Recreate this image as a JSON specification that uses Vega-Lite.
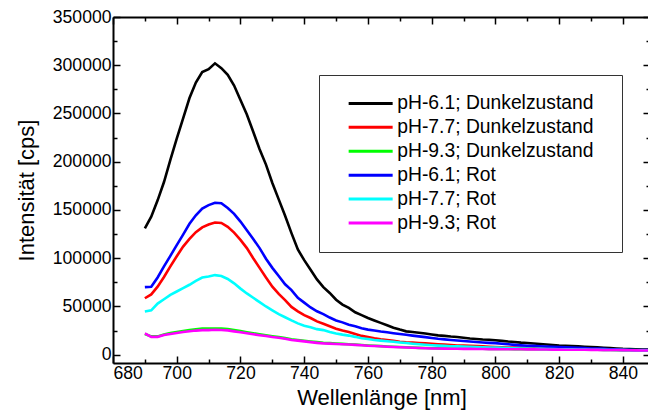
{
  "$schema": "https://vega.github.io/schema/vega-lite/v6.json",
  "width": 537,
  "height": 346,
  "autosize": "none",
  "padding": {"left": 113, "top": 17, "right": 0, "bottom": 53},
  "background": "white",
  "config": {
    "font": "Liberation Sans",
    "view": {"stroke": null},
    "axis": {
      "grid": false,
      "domainColor": "black",
      "domainWidth": 2,
      "tickColor": "black",
      "tickWidth": 1.5,
      "labelColor": "black",
      "titleColor": "black",
      "labelFontSize": 17.6,
      "titleFontSize": 22,
      "titleFontWeight": "normal",
      "labelFont": "Liberation Sans",
      "titleFont": "Liberation Sans"
    }
  },
  "data": {
    "values": [
      {"nm": 690, "k1": 131000, "k2": 58500, "k3": 21500, "k4": 70000, "k5": 44800, "k6": 22000},
      {"nm": 692, "k1": 143000, "k2": 62500, "k3": 19000, "k4": 70500, "k5": 46000, "k6": 18500},
      {"nm": 694, "k1": 160000, "k2": 70500, "k3": 19000, "k4": 80000, "k5": 53000, "k6": 18500},
      {"nm": 696, "k1": 179000, "k2": 80500, "k3": 21000, "k4": 91500, "k5": 57500, "k6": 20500},
      {"nm": 698, "k1": 202000, "k2": 91500, "k3": 22500, "k4": 102500, "k5": 62000, "k6": 21500},
      {"nm": 700, "k1": 224000, "k2": 102000, "k3": 23500, "k4": 113500, "k5": 65500, "k6": 22500},
      {"nm": 702, "k1": 245000, "k2": 112000, "k3": 24500, "k4": 124500, "k5": 69000, "k6": 23500},
      {"nm": 704, "k1": 266000, "k2": 120000, "k3": 25500, "k4": 135700, "k5": 72500, "k6": 24300},
      {"nm": 706, "k1": 282000, "k2": 127000, "k3": 26300, "k4": 144500, "k5": 76500, "k6": 25000},
      {"nm": 708, "k1": 293000, "k2": 132000, "k3": 27000, "k4": 151500, "k5": 80000, "k6": 25500},
      {"nm": 710, "k1": 296000, "k2": 135000, "k3": 27000, "k4": 155000, "k5": 81000, "k6": 25500},
      {"nm": 712, "k1": 302000, "k2": 137000, "k3": 27200, "k4": 157500, "k5": 82500, "k6": 25800},
      {"nm": 714, "k1": 297000, "k2": 136500, "k3": 27000, "k4": 157000, "k5": 81500, "k6": 25600},
      {"nm": 716, "k1": 290000, "k2": 132500, "k3": 26500, "k4": 152000, "k5": 78500, "k6": 25200},
      {"nm": 718, "k1": 279000, "k2": 126500, "k3": 25500, "k4": 146000, "k5": 74000, "k6": 24200},
      {"nm": 720, "k1": 264000, "k2": 119000, "k3": 24500, "k4": 138000, "k5": 68500, "k6": 23300},
      {"nm": 722, "k1": 249000, "k2": 110500, "k3": 23300, "k4": 129000, "k5": 63500, "k6": 22300},
      {"nm": 724, "k1": 231000, "k2": 100000, "k3": 22200, "k4": 120000, "k5": 59000, "k6": 21200},
      {"nm": 726, "k1": 213000, "k2": 90000, "k3": 21200, "k4": 110500, "k5": 54500, "k6": 20200},
      {"nm": 728, "k1": 197000, "k2": 80000, "k3": 20200, "k4": 99500, "k5": 50000, "k6": 19300},
      {"nm": 730, "k1": 178000, "k2": 70500, "k3": 19200, "k4": 90000, "k5": 46000, "k6": 18300},
      {"nm": 732, "k1": 161000, "k2": 63000, "k3": 18300, "k4": 81500, "k5": 42000, "k6": 17500},
      {"nm": 734, "k1": 144000, "k2": 56500, "k3": 17200, "k4": 73000, "k5": 38800, "k6": 16500},
      {"nm": 736, "k1": 126000, "k2": 49500, "k3": 16000, "k4": 67000, "k5": 35500, "k6": 15200},
      {"nm": 738, "k1": 109000, "k2": 45000, "k3": 15300, "k4": 59000, "k5": 32500, "k6": 14600},
      {"nm": 740, "k1": 98000, "k2": 41000, "k3": 14500, "k4": 54000, "k5": 30000, "k6": 13800},
      {"nm": 742, "k1": 88000, "k2": 38000, "k3": 13700, "k4": 49000, "k5": 28500, "k6": 13000},
      {"nm": 744, "k1": 78000, "k2": 34500, "k3": 13000, "k4": 45000, "k5": 26500, "k6": 12300},
      {"nm": 746, "k1": 70000, "k2": 32000, "k3": 12400, "k4": 42000, "k5": 25500, "k6": 11700},
      {"nm": 748, "k1": 64000, "k2": 29500, "k3": 12000, "k4": 38500, "k5": 23500, "k6": 11500},
      {"nm": 750, "k1": 57000, "k2": 27000, "k3": 11600, "k4": 35500, "k5": 22000, "k6": 11100},
      {"nm": 752, "k1": 52000, "k2": 25000, "k3": 11200, "k4": 33500, "k5": 20800, "k6": 10800},
      {"nm": 754, "k1": 48500, "k2": 23500, "k3": 10800, "k4": 31000, "k5": 19800, "k6": 10500},
      {"nm": 756, "k1": 44000, "k2": 21500, "k3": 10400, "k4": 29500, "k5": 18500, "k6": 10200},
      {"nm": 758, "k1": 41000, "k2": 19500, "k3": 10000, "k4": 27500, "k5": 17000, "k6": 9800},
      {"nm": 760, "k1": 38000, "k2": 18200, "k3": 9600, "k4": 26000, "k5": 16200, "k6": 9300},
      {"nm": 762, "k1": 35500, "k2": 17000, "k3": 9200, "k4": 25000, "k5": 15300, "k6": 9000},
      {"nm": 764, "k1": 33000, "k2": 16000, "k3": 8900, "k4": 24000, "k5": 14600, "k6": 8700},
      {"nm": 766, "k1": 30500, "k2": 15200, "k3": 8500, "k4": 23200, "k5": 14000, "k6": 8300},
      {"nm": 768, "k1": 28000, "k2": 14400, "k3": 8200, "k4": 22300, "k5": 13400, "k6": 8000},
      {"nm": 770, "k1": 26000, "k2": 13500, "k3": 8000, "k4": 21500, "k5": 12700, "k6": 7800},
      {"nm": 772, "k1": 24200, "k2": 12800, "k3": 7700, "k4": 20700, "k5": 12100, "k6": 7500},
      {"nm": 774, "k1": 23500, "k2": 12500, "k3": 7400, "k4": 19800, "k5": 11400, "k6": 7200},
      {"nm": 776, "k1": 22800, "k2": 12200, "k3": 7100, "k4": 19000, "k5": 10800, "k6": 6900},
      {"nm": 778, "k1": 22000, "k2": 11900, "k3": 6900, "k4": 18200, "k5": 10300, "k6": 6700},
      {"nm": 780, "k1": 21000, "k2": 11300, "k3": 6700, "k4": 17300, "k5": 9800, "k6": 6500},
      {"nm": 782, "k1": 20000, "k2": 10800, "k3": 6600, "k4": 16500, "k5": 9400, "k6": 6400},
      {"nm": 784, "k1": 19500, "k2": 10400, "k3": 6500, "k4": 15900, "k5": 9100, "k6": 6300},
      {"nm": 786, "k1": 18800, "k2": 10000, "k3": 6400, "k4": 15300, "k5": 8800, "k6": 6200},
      {"nm": 788, "k1": 18300, "k2": 9600, "k3": 6300, "k4": 14800, "k5": 8600, "k6": 6100},
      {"nm": 790, "k1": 17500, "k2": 9400, "k3": 6200, "k4": 14200, "k5": 8500, "k6": 6000},
      {"nm": 792, "k1": 16800, "k2": 9200, "k3": 6200, "k4": 13600, "k5": 8300, "k6": 6000},
      {"nm": 794, "k1": 16300, "k2": 8900, "k3": 6100, "k4": 13100, "k5": 8000, "k6": 5900},
      {"nm": 796, "k1": 15800, "k2": 8600, "k3": 6100, "k4": 12700, "k5": 7700, "k6": 5900},
      {"nm": 798, "k1": 15500, "k2": 8300, "k3": 6000, "k4": 12300, "k5": 7500, "k6": 5800},
      {"nm": 800, "k1": 15000, "k2": 8000, "k3": 6000, "k4": 12000, "k5": 7300, "k6": 5800},
      {"nm": 802, "k1": 14300, "k2": 7800, "k3": 5900, "k4": 11400, "k5": 7100, "k6": 5700},
      {"nm": 804, "k1": 13600, "k2": 7500, "k3": 5900, "k4": 10800, "k5": 6900, "k6": 5700},
      {"nm": 806, "k1": 13100, "k2": 7300, "k3": 5800, "k4": 10200, "k5": 6700, "k6": 5600},
      {"nm": 808, "k1": 12500, "k2": 7100, "k3": 5800, "k4": 9700, "k5": 6500, "k6": 5600},
      {"nm": 810, "k1": 12100, "k2": 6900, "k3": 5700, "k4": 9300, "k5": 6400, "k6": 5500},
      {"nm": 812, "k1": 11600, "k2": 6700, "k3": 5700, "k4": 9100, "k5": 6200, "k6": 5500},
      {"nm": 814, "k1": 11100, "k2": 6500, "k3": 5600, "k4": 8800, "k5": 6000, "k6": 5400},
      {"nm": 816, "k1": 10600, "k2": 6300, "k3": 5600, "k4": 8500, "k5": 5900, "k6": 5400},
      {"nm": 818, "k1": 10100, "k2": 6100, "k3": 5500, "k4": 8200, "k5": 5800, "k6": 5300},
      {"nm": 820, "k1": 9600, "k2": 5900, "k3": 5500, "k4": 8000, "k5": 5700, "k6": 5300},
      {"nm": 822, "k1": 9300, "k2": 5800, "k3": 5400, "k4": 7700, "k5": 5600, "k6": 5200},
      {"nm": 824, "k1": 9000, "k2": 5600, "k3": 5400, "k4": 7400, "k5": 5500, "k6": 5200},
      {"nm": 826, "k1": 8600, "k2": 5500, "k3": 5300, "k4": 7100, "k5": 5400, "k6": 5100},
      {"nm": 828, "k1": 8300, "k2": 5300, "k3": 5300, "k4": 6800, "k5": 5300, "k6": 5100},
      {"nm": 830, "k1": 8000, "k2": 5200, "k3": 5200, "k4": 6500, "k5": 5200, "k6": 5000},
      {"nm": 832, "k1": 7600, "k2": 5100, "k3": 5200, "k4": 6300, "k5": 5100, "k6": 5000},
      {"nm": 834, "k1": 7200, "k2": 5000, "k3": 5100, "k4": 6000, "k5": 5000, "k6": 4900},
      {"nm": 836, "k1": 6800, "k2": 4900, "k3": 5100, "k4": 5700, "k5": 4900, "k6": 4900},
      {"nm": 838, "k1": 6400, "k2": 4800, "k3": 5000, "k4": 5500, "k5": 4800, "k6": 4800},
      {"nm": 840, "k1": 6000, "k2": 4700, "k3": 4900, "k4": 5200, "k5": 4700, "k6": 4700},
      {"nm": 842, "k1": 5800, "k2": 4600, "k3": 4800, "k4": 5100, "k5": 4600, "k6": 4600},
      {"nm": 844, "k1": 5600, "k2": 4500, "k3": 4700, "k4": 4900, "k5": 4500, "k6": 4500},
      {"nm": 846, "k1": 5400, "k2": 4400, "k3": 4600, "k4": 4800, "k5": 4500, "k6": 4400},
      {"nm": 848, "k1": 5200, "k2": 4300, "k3": 4500, "k4": 4700, "k5": 4400, "k6": 4300}
    ]
  },
  "transform": [
    {"fold": ["k1", "k2", "k3", "k4", "k5", "k6"], "as": ["key", "value"]},
    {
      "lookup": "key",
      "from": {
        "data": {
          "values": [
            {"key": "k1", "series": "pH-6.1; Dunkelzustand"},
            {"key": "k2", "series": "pH-7.7; Dunkelzustand"},
            {"key": "k3", "series": "pH-9.3; Dunkelzustand"},
            {"key": "k4", "series": "pH-6.1; Rot"},
            {"key": "k5", "series": "pH-7.7; Rot"},
            {"key": "k6", "series": "pH-9.3; Rot"}
          ]
        },
        "key": "key",
        "fields": ["series"]
      }
    }
  ],
  "layer": [
    {
      "mark": {"type": "line", "opacity": 0},
      "encoding": {
        "detail": {"field": "key"},
        "x": {
          "field": "nm", "type": "quantitative",
          "scale": {"domain": [680, 848.5], "nice": false, "zero": false},
          "axis": {
            "orient": "top", "title": null, "labels": false,
            "values": [680, 690, 700, 710, 720, 730, 740, 750, 760, 770, 780, 790, 800, 810, 820, 830, 840],
            "tickSize": {"condition": {"test": "datum.value % 20 === 0", "value": -7}, "value": -4}
          }
        },
        "y": {
          "field": "value", "type": "quantitative",
          "scale": {"domain": [-8600, 350000], "nice": false, "zero": false},
          "axis": {
            "orient": "right", "title": null, "labels": false,
            "values": [0, 25000, 50000, 75000, 100000, 125000, 150000, 175000, 200000, 225000, 250000, 275000, 300000, 325000, 350000],
            "tickSize": {"condition": {"test": "datum.value % 50000 === 0", "value": -7}, "value": -4}
          }
        }
      }
    },
    {
      "mark": {"type": "line", "strokeWidth": 2.6},
      "encoding": {
        "x": {
          "field": "nm", "type": "quantitative",
          "scale": {"domain": [680, 848.5], "nice": false, "zero": false},
          "axis": {
            "orient": "bottom", "title": "Wellenlänge [nm]",
            "values": [680, 690, 700, 710, 720, 730, 740, 750, 760, 770, 780, 790, 800, 810, 820, 830, 840],
            "labelExpr": "datum.value % 20 === 0 ? datum.label : ''",
            "tickSize": {"condition": {"test": "datum.value % 20 === 0", "value": -7}, "value": -4},
            "labelPadding": 8,
            "titlePadding": 6
          }
        },
        "y": {
          "field": "value", "type": "quantitative",
          "scale": {"domain": [-8600, 350000], "nice": false, "zero": false},
          "axis": {
            "orient": "left", "title": "Intensität [cps]",
            "values": [0, 25000, 50000, 75000, 100000, 125000, 150000, 175000, 200000, 225000, 250000, 275000, 300000, 325000, 350000],
            "format": "d",
            "labelExpr": "datum.value % 50000 === 0 ? datum.label : ''",
            "tickSize": {"condition": {"test": "datum.value % 50000 === 0", "value": -7}, "value": -4},
            "labelPadding": 9,
            "titlePadding": 14
          }
        },
        "color": {
          "field": "series", "type": "nominal",
          "scale": {
            "domain": ["pH-6.1; Dunkelzustand", "pH-7.7; Dunkelzustand", "pH-9.3; Dunkelzustand", "pH-6.1; Rot", "pH-7.7; Rot", "pH-9.3; Rot"],
            "range": ["#000000", "#ff0000", "#00ff00", "#0000ff", "#00ffff", "#ff00ff"]
          },
          "legend": {
            "orient": "none",
            "legendX": 206,
            "legendY": 58,
            "title": " ",
            "titleOrient": "right",
            "titlePadding": 10,
            "titleFontSize": 10,
            "symbolType": "M-4,0H4",
            "symbolSize": 121,
            "symbolStrokeWidth": 3,
            "labelFontSize": 19.3,
            "labelFont": "Liberation Sans",
            "labelColor": "black",
            "labelOffset": 17,
            "labelLimit": 400,
            "padding": 18.5,
            "rowPadding": 2.9,
            "clipHeight": 19.9,
            "symbolOffset": 23.5,
            "strokeColor": "#333333",
            "fillColor": "white"
          }
        }
      }
    }
  ],
  "resolve": {"axis": {"x": "independent", "y": "independent"}}
}
